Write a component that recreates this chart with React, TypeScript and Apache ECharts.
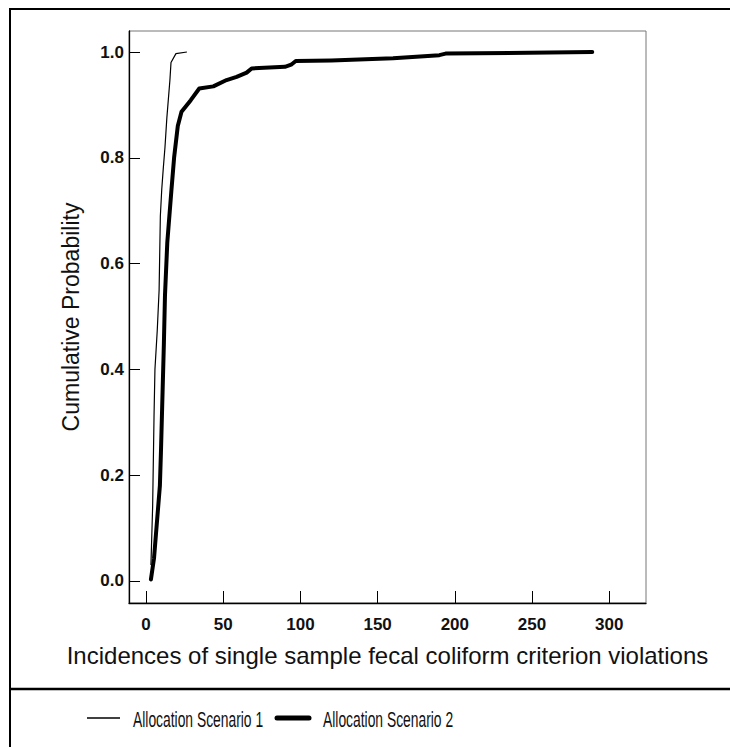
import React, { useEffect, useRef } from "react";
import * as echarts from "echarts";

const scenario1X = [3.2, 4.3, 5.2, 5.8, 7.3, 8.5, 9.3, 10.2, 11.2, 12.3, 13.5, 15.5, 16.2, 19.4, 26.5];
const scenario1Y = [0.03, 0.14, 0.31, 0.4, 0.474, 0.55, 0.69, 0.74, 0.78, 0.82, 0.875, 0.947, 0.98, 0.997, 1.0];

const scenario2X = [3.2, 5.2, 6.5, 9, 9.7, 11.6, 12.3, 13.8, 16.5, 18.2, 20.6, 23, 29, 34.5, 43.6, 52.2, 58.7, 65.2, 68.4, 90, 94, 97, 120, 160, 190, 194, 289];
const scenario2Y = [0.003, 0.043, 0.09, 0.18, 0.245, 0.45, 0.54, 0.64, 0.74, 0.8, 0.86, 0.887, 0.909, 0.931, 0.935, 0.947, 0.953, 0.961, 0.969, 0.972, 0.976, 0.983, 0.984, 0.988, 0.994, 0.997, 1.0];

const xTicks = [0, 50, 100, 150, 200, 250, 300];
const yTicks = [0, 0.2, 0.4, 0.6, 0.8, 1.0];
const seriesNames = ["Allocation Scenario 1", "Allocation Scenario 2"];
const xAxisTitle = "Incidences of single sample fecal coliform criterion violations";
const yAxisTitle = "Cumulative Probability";

const FONT = "'Liberation Sans', Arial, Helvetica, sans-serif";

export default function App() {
  const ref = useRef<HTMLDivElement>(null);
  useEffect(() => {
    document.body.style.margin = "0";
    const chart = echarts.init(ref.current!, null, { renderer: "svg" });
    const s1 = scenario1X.map((x, i) => [x, scenario1Y[i]]);
    const s2 = scenario2X.map((x, i) => [x, scenario2Y[i]]);
    chart.setOption({
      animation: false,
      backgroundColor: "#ffffff",
      grid: {
        left: 129,
        top: 31,
        right: 84,
        bottom: 144,
        show: true,
        borderColor: "#777777",
        borderWidth: 1,
        backgroundColor: "transparent",
      },
      xAxis: {
        type: "value",
        min: -11,
        max: 323.8,
        name: xAxisTitle,
        nameLocation: "middle",
        nameGap: 40,
        nameTextStyle: { fontFamily: FONT, fontSize: 24, color: "#111" },
        axisLine: { show: true, onZero: false, lineStyle: { color: "#000", width: 1.3 } },
        axisTick: {
          show: true,
          inside: true,
          length: 12,
          customValues: xTicks,
          lineStyle: { color: "#000", width: 1 },
        },
        axisLabel: {
          customValues: xTicks,
          margin: 13,
          fontFamily: FONT,
          fontSize: 17,
          fontWeight: "bold",
          color: "#111",
        },
        splitLine: { show: false },
      },
      yAxis: {
        type: "value",
        min: -0.0416,
        max: 1.0397,
        name: yAxisTitle,
        nameLocation: "middle",
        nameGap: 47,
        nameTextStyle: { fontFamily: FONT, fontSize: 23, color: "#111" },
        axisLine: { show: true, onZero: false, lineStyle: { color: "#000", width: 1.3 } },
        axisTick: {
          show: true,
          inside: true,
          length: 11,
          customValues: yTicks,
          lineStyle: { color: "#000", width: 1 },
        },
        axisLabel: {
          customValues: yTicks,
          margin: 5,
          fontFamily: FONT,
          fontSize: 17,
          fontWeight: "bold",
          color: "#111",
          formatter: (v: number) => v.toFixed(1),
        },
        splitLine: { show: false },
      },
      series: [
        {
          name: seriesNames[0],
          type: "line",
          data: s1,
          showSymbol: false,
          symbol: "none",
          lineStyle: { color: "#000", width: 1.2 },
          itemStyle: { color: "#000" },
        },
        {
          name: seriesNames[1],
          type: "line",
          data: s2,
          showSymbol: false,
          symbol: "none",
          lineStyle: { color: "#000", width: 4, cap: "round", join: "round" },
          itemStyle: { color: "#000" },
        },
      ],
      graphic: [
        {
          type: "rect",
          shape: { x: 10, y: 9, width: 730, height: 760 },
          style: { fill: "none", stroke: "#000", lineWidth: 2 },
          silent: true,
        },
        {
          type: "line",
          shape: { x1: 10, y1: 689, x2: 730, y2: 689 },
          style: { stroke: "#000", lineWidth: 2.3 },
          silent: true,
        },
        {
          type: "line",
          shape: { x1: 87, y1: 718, x2: 120, y2: 718 },
          style: { stroke: "#000", lineWidth: 1.5 },
          silent: true,
        },
        {
          type: "text",
          x: 133,
          y: 719,
          scaleX: 0.63,
          style: {
            text: seriesNames[0],
            fontFamily: FONT,
            fontSize: 22,
            fill: "#111",
            verticalAlign: "middle",
            align: "left",
          },
          silent: true,
        },
        {
          type: "line",
          shape: { x1: 277, y1: 718, x2: 309, y2: 718 },
          style: { stroke: "#000", lineWidth: 5, lineCap: "round" },
          silent: true,
        },
        {
          type: "text",
          x: 323,
          y: 719,
          scaleX: 0.63,
          style: {
            text: seriesNames[1],
            fontFamily: FONT,
            fontSize: 22,
            fill: "#111",
            verticalAlign: "middle",
            align: "left",
          },
          silent: true,
        },
      ],
    });
    return () => chart.dispose();
  }, []);
  return <div ref={ref} style={{ width: 730, height: 747 }} />;
}
